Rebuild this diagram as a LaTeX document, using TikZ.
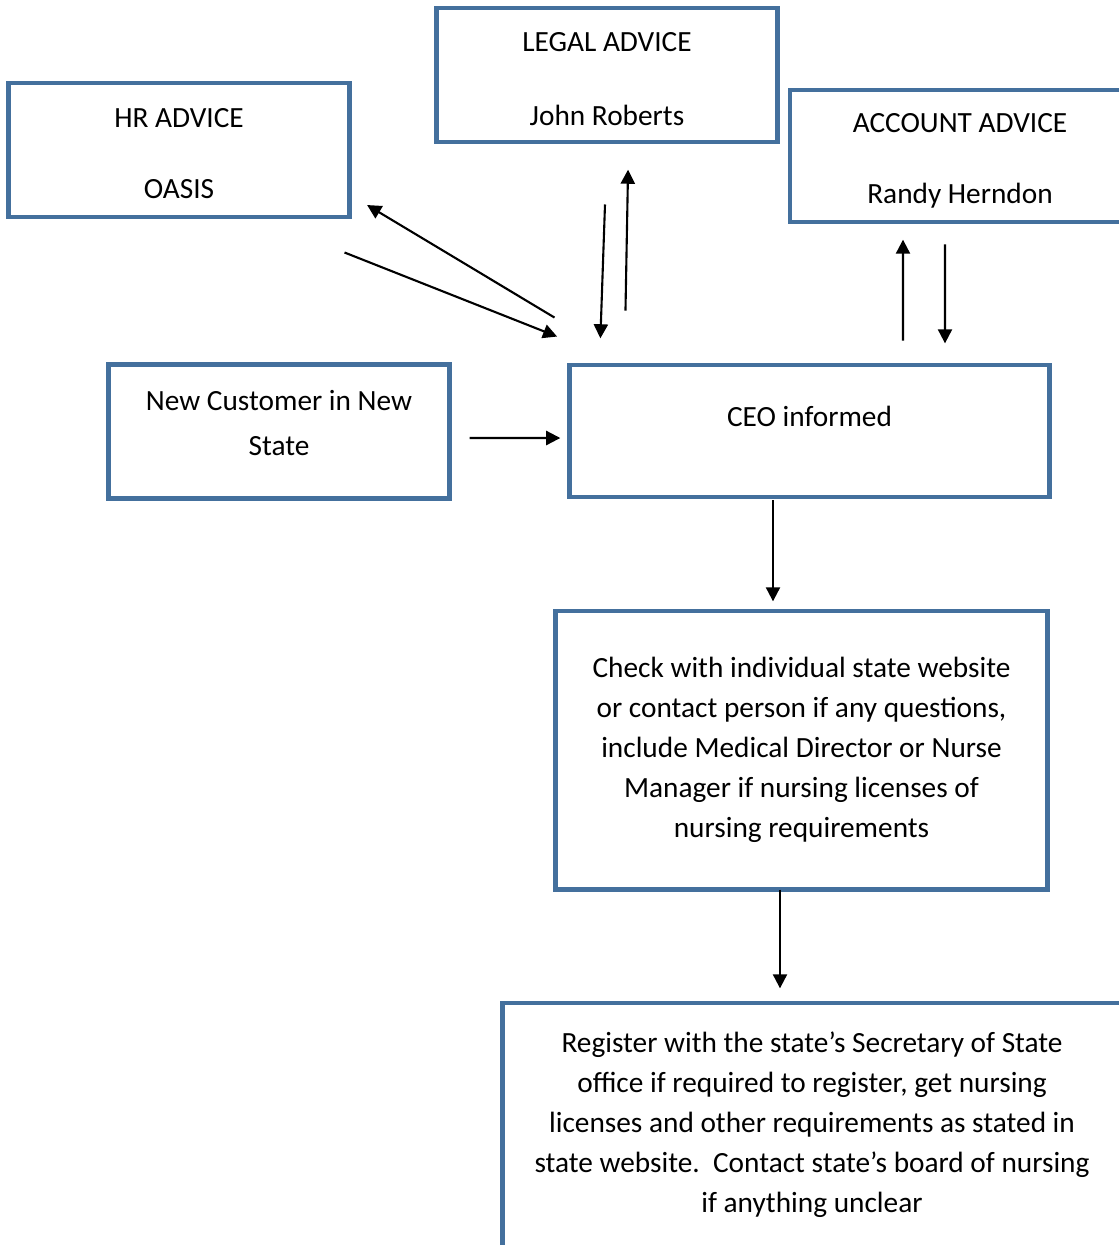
\documentclass[tikz,border=0pt]{standalone}
\usepackage{fontspec}
\setmainfont{Carlito}
\usepackage{tikz}
\usetikzlibrary{
    arrows.meta,
    positioning,
    calc
}
\definecolor{boxblue}{HTML}{44709D}
\definecolor{arrowblack}{HTML}{000000}
\tikzset{
    advicebox/.style={
        rectangle, draw=boxblue, fill=white,
        line width=3.5pt, minimum width=8.5cm,
        minimum height=3.35cm, align=center,
        font=\fontsize{20.85}{28.5}\selectfont
    },
    stepbox/.style={
        advicebox, minimum width=#1
    },
    stepbox/.default={8.5cm},
    flow/.style={
        -{Triangle[length=10pt,width=10pt]}, line width=1.5pt,
        shorten >=-2pt, color=arrowblack
    },
}

\begin{document}
\begin{tikzpicture}[x=0.025cm, y=-0.025cm]
    \useasboundingbox (0,0) rectangle (1119,1245);
    \clip (0,0) rectangle (1119,1245);

    % advice boxes along the top
    \node[advicebox] (hr) at (179,150) {\mbox{}\\[-9.5pt]HR ADVICE\\[22pt]OASIS};
    \node[advicebox] (legal) at (607,75) {\mbox{}\\[-9.5pt]LEGAL ADVICE\\[24pt]John Roberts};
    \node[advicebox, minimum height=3.3cm] (account) at (960,156) {\mbox{}\\[-8pt]ACCOUNT ADVICE\\[22pt]Randy Herndon};

    % main flow
    \node[advicebox] (newcust) at (279,431.5) {New Customer in New\\[3.5pt]State\\[-15.7pt]\mbox{}};
    \node[stepbox=11.975cm, minimum height=3.3cm] (ceo) at (809.5,431) {CEO informed\\[-7pt]\mbox{}};
    \node[stepbox=12.275cm, minimum height=6.95cm] (check) at (801.5,750) {Check with individual state website\\
        or contact person if any questions,\\
        include Medical Director or Nurse\\
        Manager if nursing licenses of\\
        nursing requirements};
    \node[stepbox=15.45cm, minimum height=6.1cm] (register) at (812,1125) {Register with the state’s Secretary of State\\
        office if required to register, get nursing\\
        licenses and other requirements as stated in\\
        state website.\ \ Contact state’s board of nursing\\
        if anything unclear};

    % advice arrows
    \draw[flow] ($(ceo.north west)+(-13,-45)$) -- ($(hr.south east)+(18,-13)$);
    \draw[flow] ($(hr.south east)+(-7,33)$) -- ($(ceo.north west)+(-13,-27)$);
    \draw[flow] ($(legal.south)+(-2,60)$) -- ($(ceo.north west)+(33,-27)$);
    \draw[flow] ($(ceo.north west)+(58,-52)$) -- ($(legal.south)+(21,28)$);
    \draw[flow] ($(ceo.north)+(93.5,-22)$) -- ($(account.south)+(-57,18)$);
    \draw[flow] ($(account.south)+(-15,20)$) -- ($(ceo.north)+(135.5,-22)$);

    \draw[flow] ($(newcust.east)+(18,6.5)$) -- ($(ceo.west)+(-10,7)$);
    \draw[flow] ($(ceo.south)+(-36.5,1)$) -- ($(check.north)+(-28.5,-10)$);
    \draw[flow] ($(check.south)+(-21.5,-2)$) -- ($(register.north)+(-32,-15)$);
\end{tikzpicture}
\end{document}
